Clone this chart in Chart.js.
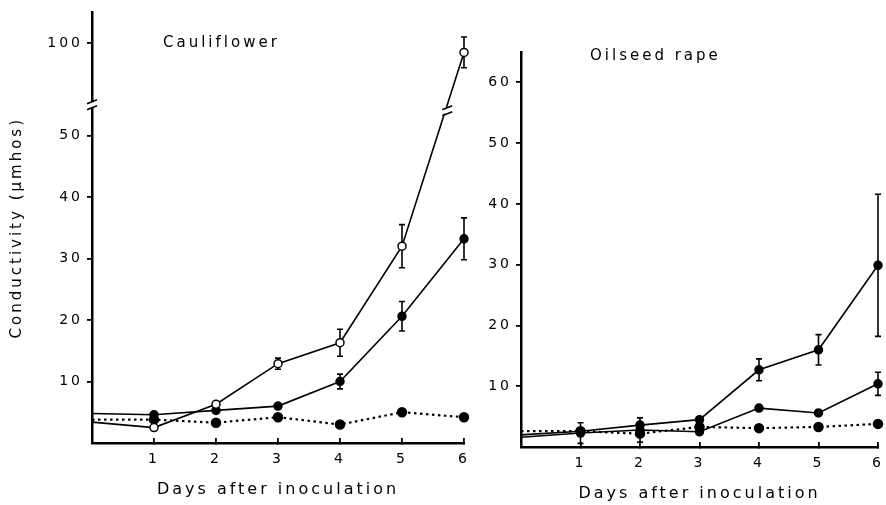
<!DOCTYPE html>
<html lang="en">
<head>
<meta charset="UTF-8" />
<title>Conductivity after inoculation</title>
<script src="https://cdn.jsdelivr.net/npm/chart.js"></script>
<style>
  body { margin: 0; background: #fff; width: 886px; height: 505px; position: relative; overflow: hidden; }
  .panel { position: absolute; top: 0; height: 505px; }
</style>
</head>
<body>
<div class="panel" style="left:0;width:470px"><canvas id="cauliChart"></canvas></div>
<div class="panel" style="left:470px;width:416px"><canvas id="rapeChart"></canvas></div>

<script>
// ---- data ----
const days = [0, 1, 2, 3, 4, 5, 6];
const dayTicks = [1, 2, 3, 4, 5, 6];

// Cauliflower
const cauliTicks = [10, 20, 30, 40, 50, 100];
const cauliOpen = [3.4, 2.5, 6.3, 12.9, 16.3, 32.0, 98.5];
const cauliOpenErr = [0, 0, 0, 0.9, 2.2, 3.5, 2.5];
const cauliFilled = [4.8, 4.6, 5.3, 6.0, 10.0, 20.6, 33.2];
const cauliFilledErr = [0, 0, 0, 0, 1.2, 2.4, 3.4];
const cauliDotted = [3.8, 3.8, 3.3, 4.2, 3.0, 5.0, 4.2];

// Oilseed rape
const rapeTicks = [10, 20, 30, 40, 50, 60];
const rapeTop = [2.0, 2.6, 3.6, 4.5, 12.7, 16.0, 29.9];
const rapeTopErr = [0, 0, 0, 0, 1.8, 2.5, 11.7];
const rapeMid = [1.6, 2.3, 2.8, 2.5, 6.4, 5.6, 10.4];
const rapeMidErr = [0, 1.7, 2.0, 0, 0, 0, 1.9];
const rapeDotted = [2.6, 2.6, 2.2, 3.3, 3.1, 3.3, 3.8];

// broken y axis on the cauliflower panel
const BREAK_LOW = 55, BREAK_HIGH = 90;

class BrokenLinearScale extends Chart.LinearScale {
  squash(v) { return v <= BREAK_LOW ? v : BREAK_LOW + Math.max(0, v - BREAK_HIGH); }
  getPixelForValue(v) {
    const lo = this.squash(this.min), hi = this.squash(this.max);
    return this.getPixelForDecimal((this.squash(v) - lo) / (hi - lo));
  }
  getValueForPixel(p) {
    const lo = this.squash(this.min), hi = this.squash(this.max);
    const s = lo + this.getDecimalForPixel(p) * (hi - lo);
    return s <= BREAK_LOW ? s : s - BREAK_LOW + BREAK_HIGH;
  }
}
BrokenLinearScale.id = 'brokenLinear';
BrokenLinearScale.defaults = Chart.LinearScale.defaults;
Chart.register(BrokenLinearScale);

const FONT = "'DejaVu Sans', sans-serif";

const spacing = {
  id: 'spacing',
  beforeDraw(chart) { chart.ctx.letterSpacing = '3px'; }
};

const panelTitle = {
  id: 'panelTitle',
  afterDraw(chart, args, opts) {
    const ctx = chart.ctx;
    ctx.save();
    ctx.font = '15px ' + FONT;
    ctx.letterSpacing = '3px';
    ctx.fillStyle = '#000';
    ctx.textBaseline = 'middle';
    ctx.fillText(opts.text, chart.chartArea.left + opts.dx, opts.y);
    ctx.restore();
  }
};

const errorBars = {
  id: 'errorBars',
  afterDatasetsDraw(chart) {
    const ctx = chart.ctx, xs = chart.scales.x, ys = chart.scales.y;
    ctx.save();
    ctx.strokeStyle = '#000';
    ctx.lineWidth = 1.6;
    chart.data.datasets.forEach(ds => {
      if (!ds.errors) return;
      ds.data.forEach((pt, i) => {
        const e = ds.errors[i];
        if (!e) return;
        const px = xs.getPixelForValue(pt.x), py = ys.getPixelForValue(pt.y);
        const top = ys.getPixelForValue(pt.y + e);
        const bot = ys.getPixelForValue(Math.max(0, pt.y - e));
        ctx.beginPath();
        ctx.moveTo(px, top); ctx.lineTo(px, py - 4);
        ctx.moveTo(px, py + 4); ctx.lineTo(px, bot);
        ctx.moveTo(px - 3, top); ctx.lineTo(px + 3, top);
        ctx.moveTo(px - 3, bot); ctx.lineTo(px + 3, bot);
        ctx.stroke();
      });
    });
    ctx.restore();
  }
};

const axisBreak = {
  id: 'axisBreak',
  afterDraw(chart, args, opts) {
    if (!opts.on) return;
    const ctx = chart.ctx, ys = chart.scales.y, area = chart.chartArea;
    const by = ys.getPixelForValue(BREAK_LOW);
    const marks = (cx, cy) => {
      ctx.fillStyle = '#fff';
      ctx.fillRect(cx - 4, cy - 3, 8, 6);
      ctx.beginPath();
      ctx.moveTo(cx - 5, cy - 1); ctx.lineTo(cx + 5, cy - 5);
      ctx.moveTo(cx - 5, cy + 5); ctx.lineTo(cx + 5, cy + 1);
      ctx.stroke();
    };
    ctx.save();
    ctx.strokeStyle = '#000';
    ctx.lineWidth = 1.6;
    marks(area.left, by);
    const pts = chart.getDatasetMeta(opts.dataset).data;
    for (let i = 0; i < pts.length - 1; i++) {
      const a = pts[i], b = pts[i + 1];
      if (a.y > by && b.y < by) {
        const t = (a.y - by) / (a.y - b.y);
        marks(a.x + t * (b.x - a.x), by + 6);
      }
    }
    ctx.restore();
  }
};

function series(values, opts) {
  return Object.assign({
    data: days.map((d, i) => ({ x: d, y: values[i] })),
    borderColor: '#000',
    borderWidth: 1.6,
    pointRadius: days.map(d => d === 0 ? 0 : 4),
    pointBackgroundColor: '#000',
    pointBorderColor: '#000',
    pointBorderWidth: 1.5,
    clip: false
  }, opts);
}

function dotted(values) {
  return series(values, { borderDash: [2.5, 3.5], borderWidth: 2.2, pointRadius: days.map(d => d === 0 ? 0 : 4.5) });
}

function makeOptions(cfg) {
  return {
    responsive: true,
    maintainAspectRatio: false,
    animation: false,
    events: [],
    layout: { padding: { top: cfg.top, right: cfg.right, left: 0, bottom: 0 } },
    plugins: {
      legend: { display: false },
      tooltip: { enabled: false },
      panelTitle: cfg.title,
      axisBreak: cfg.brk || {}
    },
    scales: {
      x: {
        type: 'linear', min: 0, max: 6,
        afterBuildTicks: ax => { ax.ticks = dayTicks.map(v => ({ value: v })); },
        afterFit: ax => { ax.height = cfg.xHeight; ax.paddingLeft = 0; ax.paddingRight = 0; },
        grid: { drawOnChartArea: false, color: '#000', lineWidth: 1.8, tickLength: -5 },
        border: { color: '#000', width: 2.5 },
        ticks: { color: '#000', font: { family: FONT, size: 14 }, padding: 13, maxRotation: 0 },
        title: { display: true, text: 'Days after inoculation', color: '#000', font: { family: FONT, size: 16 }, padding: { top: 0, bottom: cfg.xTitlePad } }
      },
      y: {
        type: cfg.yType, min: 0, max: cfg.yMax,
        afterBuildTicks: ax => { ax.ticks = cfg.yTicks.map(v => ({ value: v })); },
        afterFit: ax => { ax.width = cfg.yWidth; },
        grid: { drawOnChartArea: false, color: '#000', lineWidth: 1.8, tickLength: 5 },
        border: { color: '#000', width: 2.5 },
        ticks: { color: '#000', font: { family: FONT, size: 14 }, padding: 4 },
        title: cfg.yTitle
      }
    }
  };
}

Chart.register(spacing, panelTitle, errorBars, axisBreak);

new Chart(document.getElementById('cauliChart'), {
  type: 'line',
  data: {
    datasets: [
      series(cauliOpen, { pointBackgroundColor: '#fff', errors: cauliOpenErr }),
      series(cauliFilled, { errors: cauliFilledErr }),
      dotted(cauliDotted)
    ]
  },
  options: makeOptions({
    top: 12, right: 5, xHeight: 62, yWidth: 92, yMax: 105, yType: 'brokenLinear',
    yTicks: cauliTicks, xTitlePad: 6,
    title: { text: 'Cauliflower', dx: 71, y: 43 },
    brk: { on: true, dataset: 0 },
    yTitle: { display: true, text: 'Conductivity (µmhos)', color: '#000', font: { family: FONT, size: 15 }, padding: { top: 8, bottom: 0 } }
  })
});

new Chart(document.getElementById('rapeChart'), {
  type: 'line',
  data: {
    datasets: [
      series(rapeTop, { errors: rapeTopErr }),
      series(rapeMid, { errors: rapeMidErr }),
      dotted(rapeDotted)
    ]
  },
  options: makeOptions({
    top: 52, right: 8, xHeight: 58, yWidth: 51, yMax: 65, yType: 'linear',
    yTicks: rapeTicks, xTitlePad: 2,
    title: { text: 'Oilseed rape', dx: 69, y: 56 },
    yTitle: { display: false }
  })
});
</script>
</body>
</html>
